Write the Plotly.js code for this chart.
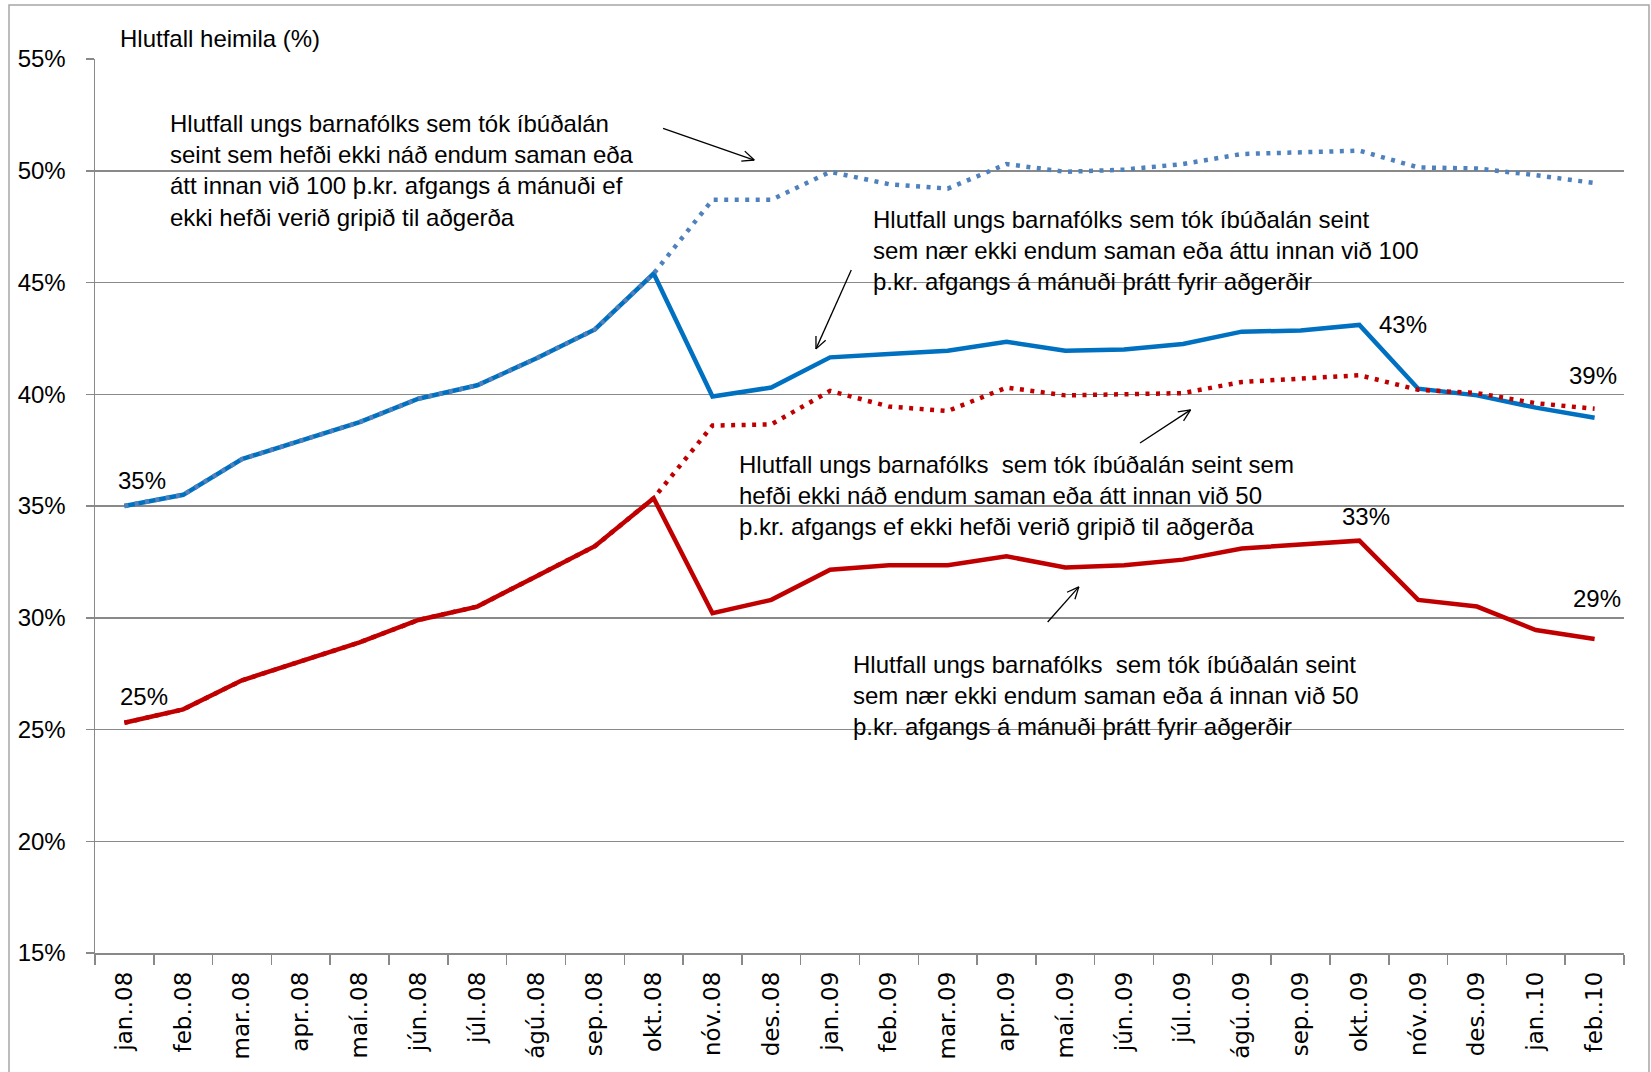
<!DOCTYPE html>
<html>
<head>
<meta charset="utf-8">
<script src="https://cdn.plot.ly/plotly-3.0.1.min.js"></script>
<style>body{margin:0;background:#fff}</style>
</head>
<body>
<div id="myDiv" style="width:1651px;height:1072px"></div>
<script>
const months = ['jan..08','feb..08','mar..08','apr..08','maí..08','jún..08','júl..08','ágú..08','sep..08','okt..08','nóv..08','des..08',
  'jan..09','feb..09','mar..09','apr..09','maí..09','jún..09','júl..09','ágú..09','sep..09','okt..09','nóv..09','des..09',
  'jan..10','feb..10'];

// 100 þ.kr., after measures (solid blue)
const blueAfter = [35.0, 35.5, 37.1, 37.9, 38.75, 39.8, 40.4, 41.6, 42.9, 45.4, 39.9, 40.3,
  41.65, 41.8, 41.95, 42.35, 41.95, 42.0, 42.25, 42.8, 42.85, 43.1, 40.25, 39.95, 39.4, 38.95];
// 100 þ.kr., without measures (dotted blue)
const blueBefore = [35.0, 35.5, 37.1, 37.9, 38.75, 39.8, 40.4, 41.6, 42.9, 45.4, 48.7, 48.7,
  49.95, 49.4, 49.2, 50.3, 49.95, 50.05, 50.3, 50.75, 50.8, 50.9, 50.15, 50.1, 49.8, 49.45];
// 50 þ.kr., after measures (solid red)
const redAfter = [25.3, 25.9, 27.2, 28.05, 28.9, 29.9, 30.5, 31.85, 33.2, 35.35, 30.2, 30.8,
  32.15, 32.35, 32.35, 32.75, 32.25, 32.35, 32.6, 33.1, 33.25, 33.45, 30.8, 30.5, 29.45, 29.05];
// 50 þ.kr., without measures (dotted red)
const redBefore = [25.3, 25.9, 27.2, 28.05, 28.9, 29.9, 30.5, 31.85, 33.2, 35.35, 38.6, 38.65,
  40.15, 39.45, 39.25, 40.3, 39.95, 40.0, 40.05, 40.55, 40.7, 40.85, 40.2, 40.05, 39.6, 39.35];

const yTitle = 'Hlutfall heimila (%)';
const notes = [
  'Hlutfall ungs barnafólks sem tók íbúðalán<br>seint sem hefði ekki náð endum saman eða<br>átt innan við 100 þ.kr. afgangs á mánuði ef<br>ekki hefði verið gripið til aðgerða',
  'Hlutfall ungs barnafólks sem tók íbúðalán seint<br>sem nær ekki endum saman eða áttu innan við 100<br>þ.kr. afgangs á mánuði þrátt fyrir aðgerðir',
  'Hlutfall ungs barnafólks&nbsp; sem tók íbúðalán seint sem<br>hefði ekki náð endum saman eða átt innan við 50<br>þ.kr. afgangs ef ekki hefði verið gripið til aðgerða',
  'Hlutfall ungs barnafólks&nbsp; sem tók íbúðalán seint<br>sem nær ekki endum saman eða á innan við 50<br>þ.kr. afgangs á mánuði þrátt fyrir aðgerðir'
];

const W = 1651, H = 1072;
const M = {l: 95, r: 27, t: 59, b: 119};
const Y0 = 15, Y1 = 55;
const pw = W - M.l - M.r, ph = H - M.t - M.b;

// helpers: category index / percent -> paper coords
const px = (i) => (i + 0.5) / months.length;
const py = (v) => (v - Y0) / (Y1 - Y0);

const font = 'Liberation Sans, Arial, sans-serif';
const dotted = '4px,6.5px';

const traces = [
  {x: months, y: blueAfter, type: 'scatter', mode: 'lines', line: {color: '#0070C0', width: 4.5}},
  {x: months, y: redAfter, type: 'scatter', mode: 'lines', line: {color: '#C00000', width: 4.5}},
  {x: months, y: blueBefore, type: 'scatter', mode: 'lines', line: {color: '#4F81BD', width: 4.5, dash: dotted}},
  {x: months, y: redBefore, type: 'scatter', mode: 'lines', line: {color: '#C00000', width: 4.5, dash: dotted}}
];

// open V arrow: tail (i0,v0) -> head (i1,v1)
function arrow(i0, v0, i1, v1) {
  const sx = pw / months.length, sy = ph / (Y1 - Y0);
  const a = Math.atan2(-(v1 - v0) * sy, (i1 - i0) * sx);
  const len = 13, spread = 0.42;
  const ln = {color: '#000', width: 1.3};
  const out = [{type: 'line', xref: 'paper', yref: 'paper', x0: px(i0), y0: py(v0), x1: px(i1), y1: py(v1), line: ln}];
  [a + Math.PI - spread, a + Math.PI + spread].forEach(t => {
    const hx = i1 + len * Math.cos(t) / sx;
    const hv = v1 - len * Math.sin(t) / sy;
    out.push({type: 'line', xref: 'paper', yref: 'paper', x0: px(i1), y0: py(v1), x1: px(hx), y1: py(hv), line: ln});
  });
  return out;
}

// white text boxes that break the gridlines
const box = (i0, i1, v0, v1) => ({type: 'rect', xref: 'paper', yref: 'paper', layer: 'between',
  x0: px(i0), x1: px(i1), y0: py(v0), y1: py(v1), fillcolor: '#fff', line: {width: 0}});

const shapes = [
  {type: 'rect', xref: 'paper', yref: 'paper', x0: (9 - M.l) / pw, x1: (1649 - M.l) / pw,
    y0: -0.3, y1: 1 + (M.t - 5) / ph, line: {color: '#a6a6a6', width: 1.5}},
  box(0.49, 9.18, 46.7, 53.4),
  box(12.3, 22.38, 44.2, 48.7),
  box(10.08, 20.6, 33.7, 37.7),
  box(12.03, 21.36, 24.3, 28.8),
  ...arrow(9.16, 51.9, 10.71, 50.48),
  ...arrow(12.36, 45.56, 11.76, 42.03),
  ...arrow(17.27, 37.82, 18.13, 39.3),
  ...arrow(15.7, 29.81, 16.23, 31.38)
];

const note = (text, i, v) => ({text: text, xref: 'paper', yref: 'paper', x: px(i), y: py(v),
  xanchor: 'left', yanchor: 'middle', align: 'left', showarrow: false, font: {family: font, size: 24, color: '#000'}});

// value labels [series, index, xshift, yshift]
const labelSpec = [[blueAfter, 0, 18, 26], [redAfter, 0, 20, 26], [blueAfter, 21, 44, 0],
  [redAfter, 21, 7, 24], [blueAfter, 25, -2, 42], [redAfter, 25, 2, 40]];

const annotations = [
  {text: yTitle, xref: 'paper', yref: 'paper', x: (118 - M.l) / pw, y: 1 + (M.t - 38) / ph,
    xanchor: 'left', yanchor: 'middle', showarrow: false, font: {family: font, size: 24, color: '#000'}},
  note(notes[0], 0.748, 50.03),
  note(notes[1], 12.7, 46.41),
  note(notes[2], 10.42, 35.45),
  note(notes[3], 12.36, 26.5),
  ...labelSpec.map(([s, i, dx, dy]) => ({text: Math.round(s[i]) + '%', x: months[i], y: s[i],
    xshift: dx, yshift: dy, showarrow: false, font: {family: font, size: 24, color: '#000'}}))
];

const layout = {
  width: W, height: H,
  margin: M,
  paper_bgcolor: '#fff', plot_bgcolor: '#fff',
  showlegend: false,
  xaxis: {
    type: 'category', categoryarray: months, range: [-0.5, months.length - 0.5],
    showline: true, linecolor: '#898989', linewidth: 1.5,
    ticks: 'outside', tickson: 'boundaries', ticklen: 10, tickcolor: '#898989', tickwidth: 1.5,
    tickangle: -90, ticklabelstandoff: 8,
    tickfont: {family: 'DejaVu Sans, sans-serif', size: 23, color: '#000'},
    showgrid: false, zeroline: false
  },
  yaxis: {
    range: [Y0, Y1], dtick: 5, ticksuffix: '%',
    showline: true, linecolor: '#898989', linewidth: 1.5,
    ticks: 'outside', ticklen: 8, tickcolor: '#898989', tickwidth: 1.5, ticklabelstandoff: 15,
    tickfont: {family: font, size: 24, color: '#000'},
    showgrid: true, gridcolor: '#898989', gridwidth: 1.5, zeroline: false
  },
  shapes: shapes,
  annotations: annotations
};

Plotly.newPlot('myDiv', traces, layout, {staticPlot: true});
</script>
</body>
</html>
